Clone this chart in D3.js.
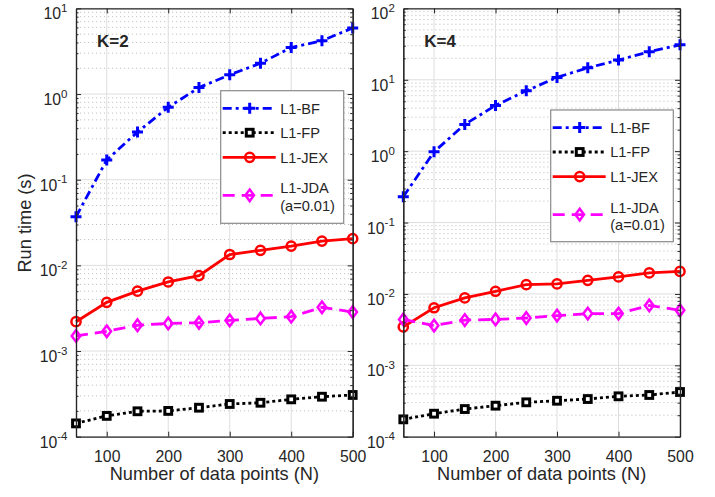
<!DOCTYPE html>
<html>
<head>
<meta charset="utf-8">
<script src="https://cdn.jsdelivr.net/npm/d3@7"></script>
<style>
body { margin: 0; background: #fff; }
svg text { font-family: "Liberation Sans", Arial, Helvetica, sans-serif; fill: #262626; }
</style>
</head>
<body>
<div id="chart"></div>
<script>
// values
const nPoints = [50, 100, 150, 200, 250, 300, 350, 400, 450, 500];
const seriesNames = ["L1-BF", "L1-FP", "L1-JEX", "L1-JDA"];
const k2BF  = [0.037, 0.17, 0.36, 0.70, 1.19, 1.68, 2.29, 3.49, 4.2, 5.9];
const k2FP  = [1.43e-4, 1.75e-4, 1.98e-4, 2.0e-4, 2.18e-4, 2.41e-4, 2.49e-4, 2.73e-4, 2.93e-4, 3.07e-4];
const k2JEX = [0.0022, 0.0037, 0.0050, 0.0064, 0.0076, 0.0134, 0.0150, 0.0168, 0.0192, 0.0205];
const k2JDA = [0.0015, 0.0017, 0.0020, 0.0021, 0.00214, 0.00228, 0.0024, 0.00252, 0.00324, 0.00285];
const k4BF  = [0.23, 0.98, 2.37, 4.37, 7.0, 10.8, 14.7, 18.9, 24.7, 30.9];
const k4FP  = [1.75e-4, 2.1e-4, 2.44e-4, 2.72e-4, 3.03e-4, 3.19e-4, 3.37e-4, 3.68e-4, 3.84e-4, 4.23e-4];
const k4JEX = [0.00345, 0.0064, 0.0088, 0.0109, 0.0135, 0.0138, 0.0155, 0.0173, 0.0197, 0.0207];
const k4JDA = [0.0044, 0.0036, 0.0043, 0.0044, 0.0046, 0.00497, 0.0053, 0.0053, 0.0069, 0.0059];
const xTicks = [100, 200, 300, 400, 500];

const W = 715, H = 497;
const ink = "#262626";

const styles = [
	{ color: "#0000ff", dash: "9,4,3,4", marker: "plus" },
	{ color: "#000000", dash: "3,3", marker: "square" },
	{ color: "#ff0000", dash: null, marker: "circle" },
	{ color: "#ff00ff", dash: "12,7", marker: "diamond" }
];

const panels = [
	{ label: "K=2", series: [k2BF, k2FP, k2JEX, k2JDA], yMax: 1e1, x0: 76, x1: 352.7, legend: [220.7, 90.7, 123, 132.6] },
	{ label: "K=4", series: [k4BF, k4FP, k4JEX, k4JDA], yMax: 1e2, x0: 403.3, x1: 680, legend: [550.7, 110, 122.6, 131.7] }
];
const yTop = 8.4, yBot = 436.7;

let svg = d3.select("#chart").append("svg")
	.attr("width", W).attr("height", H)
	.attr("viewBox", "0 0 " + W + " " + H);

function drawMarker(g, type, color, x, y) {
	if (type == "plus") {
		g.append("path").attr("d", `M${x-5.5},${y}H${x+5.5}M${x},${y-5.5}V${y+5.5}`)
			.attr("stroke", color).attr("stroke-width", 3).attr("fill", "none");
	} else if (type == "square") {
		g.append("rect").attr("x", x-3.4).attr("y", y-3.4).attr("width", 6.8).attr("height", 6.8)
			.attr("stroke", color).attr("stroke-width", 3).attr("fill", "#fff");
	} else if (type == "circle") {
		g.append("circle").attr("cx", x).attr("cy", y).attr("r", 4.6)
			.attr("stroke", color).attr("stroke-width", 2.5).attr("fill", "none");
	} else {
		g.append("path").attr("d", `M${x},${y-5.8}L${x+4.3},${y}L${x},${y+5.8}L${x-4.3},${y}Z`)
			.attr("stroke", color).attr("stroke-width", 2.5).attr("fill", "none");
	}
}

function superLabels(sel, spacing) {
	sel.selectAll(".tick text").each(function(d) {
		let t = d3.select(this);
		t.text(null).attr("dy", null).attr("x", -spacing).attr("y", 10.5);
		t.append("tspan").text("10");
		t.append("tspan").attr("dy", -7.5).attr("font-size", "11.5px").text(Math.round(Math.log10(d)));
	});
}

panels.forEach(function(p, pi) {
	let x = d3.scaleLinear().domain([50, 500]).range([p.x0, p.x1]);
	let y = d3.scaleLog().domain([1e-4, p.yMax]).range([yBot, yTop]);
	let decades = y.ticks().filter(d => Math.abs(Math.log10(d) - Math.round(Math.log10(d))) < 1e-9);
	let minors = y.ticks().filter(d => decades.indexOf(d) < 0);

	let g = svg.append("g");

	// grid
	g.append("g").selectAll("line").data(minors).enter().append("line")
		.attr("x1", p.x0).attr("x2", p.x1).attr("y1", d => y(d)).attr("y2", d => y(d))
		.attr("stroke", "#c4c4c4").attr("stroke-width", 1).attr("stroke-dasharray", "1.2,2.8");
	g.append("g").selectAll("line").data(decades).enter().append("line")
		.attr("x1", p.x0).attr("x2", p.x1).attr("y1", d => y(d)).attr("y2", d => y(d))
		.attr("stroke", "#dedede").attr("stroke-width", 1);
	g.append("g").selectAll("line").data(xTicks).enter().append("line")
		.attr("x1", d => x(d)).attr("x2", d => x(d)).attr("y1", yTop).attr("y2", yBot)
		.attr("stroke", "#dedede").attr("stroke-width", 1);

	// series
	p.series.forEach(function(vals, si) {
		let s = styles[si];
		let line = d3.line().x((d, i) => x(nPoints[i])).y(d => y(d));
		g.append("path").datum(vals).attr("d", line)
			.attr("fill", "none").attr("stroke", s.color).attr("stroke-width", 2.8)
			.attr("stroke-dasharray", s.dash);
		let mg = g.append("g");
		vals.forEach((v, i) => drawMarker(mg, s.marker, s.color, x(nPoints[i]), y(v)));
	});

	// axes
	let axG = g.append("g");
	axG.append("g").attr("transform", `translate(0,${yBot})`)
		.call(d3.axisBottom(x).tickValues(xTicks).tickSizeInner(-5).tickSizeOuter(0).tickPadding(14));
	axG.append("g").attr("transform", `translate(0,${yTop})`)
		.call(d3.axisTop(x).tickValues(xTicks).tickSizeInner(-5).tickSizeOuter(0).tickFormat(""));
	let left = axG.append("g").attr("transform", `translate(${p.x0},0)`)
		.call(d3.axisLeft(y).tickValues(decades).tickSizeInner(-5).tickSizeOuter(0).tickPadding(8.5));
	superLabels(left, 8.5);
	axG.append("g").attr("transform", `translate(${p.x0},0)`)
		.call(d3.axisLeft(y).tickValues(minors).tickSizeInner(-2.5).tickSizeOuter(0).tickFormat(""));
	axG.append("g").attr("transform", `translate(${p.x1},0)`)
		.call(d3.axisRight(y).tickValues(decades).tickSizeInner(-5).tickSizeOuter(0).tickFormat(""));
	axG.append("g").attr("transform", `translate(${p.x1},0)`)
		.call(d3.axisRight(y).tickValues(minors).tickSizeInner(-2.5).tickSizeOuter(0).tickFormat(""));
	axG.selectAll(".domain").attr("stroke", ink).attr("stroke-width", 1.2);
	axG.selectAll(".tick line").attr("stroke", ink).attr("stroke-width", 1);
	axG.selectAll(":scope > g").attr("font-size", "15.8px").attr("font-family", null);
	axG.selectAll(".tick text").attr("fill", ink);

	// panel label
	g.append("text").attr("x", p.x0 + 21).attr("y", 46.5)
		.attr("font-size", "17px").attr("font-weight", "bold").attr("fill", "#000").text(p.label);

	// x label
	g.append("text").attr("x", (p.x0 + p.x1) / 2).attr("y", 479.5)
		.attr("text-anchor", "middle").attr("font-size", "18.2px").text("Number of data points (N)");

	// legend
	let [lx, ly, lw, lh] = p.legend;
	let lg = g.append("g");
	lg.append("rect").attr("x", lx).attr("y", ly).attr("width", lw).attr("height", lh)
		.attr("fill", "#fff").attr("stroke", "#8a8a8a").attr("stroke-width", 1.2);
	let rows = [17.6, 42, 66.6, 104.6];
	seriesNames.forEach(function(name, si) {
		let s = styles[si];
		let ry = ly + rows[si];
		lg.append("line").attr("x1", lx + 2).attr("x2", lx + 55).attr("y1", ry).attr("y2", ry)
			.attr("stroke", s.color).attr("stroke-width", 2.8).attr("stroke-dasharray", s.dash);
		drawMarker(lg, s.marker, s.color, lx + 29, ry);
		if (si < 3) {
			lg.append("text").attr("x", lx + 59.5).attr("y", ry + 5.3).attr("font-size", "14.6px").text(name);
		} else {
			lg.append("text").attr("x", lx + 59.5).attr("y", ly + 102.6).attr("font-size", "14.6px").text(name);
			lg.append("text").attr("x", lx + 59.5).attr("y", ly + 120).attr("font-size", "14.6px").text("(a=0.01)");
		}
	});
});

// y label
svg.append("text").attr("transform", "translate(31,223) rotate(-90)")
	.attr("text-anchor", "middle").attr("font-size", "18.2px").text("Run time (s)");
</script>
</body>
</html>
